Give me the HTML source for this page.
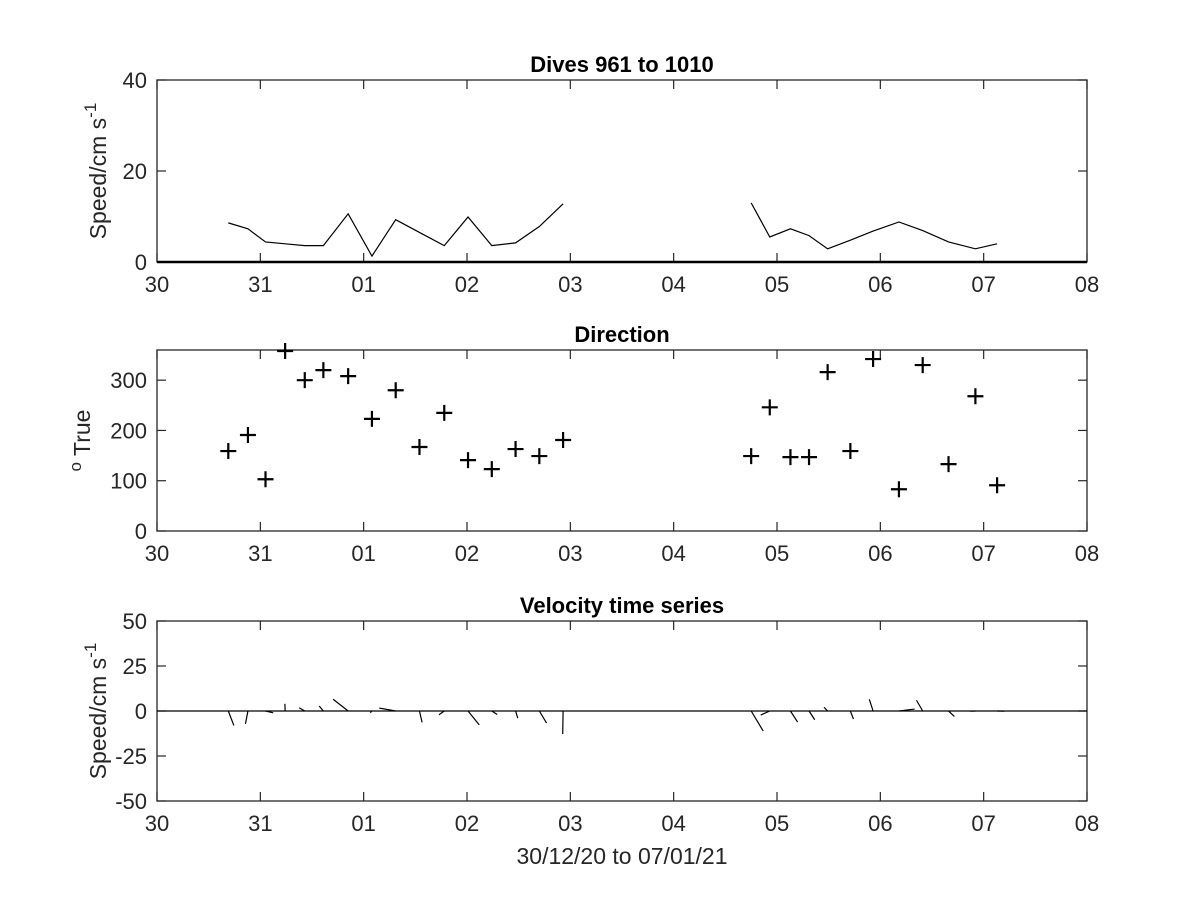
<!DOCTYPE html>
<html><head><meta charset="utf-8">
<style>
html,body{margin:0;padding:0;background:#fff;}
svg{display:block;font-family:"Liberation Sans",Arial,sans-serif;}
</style></head>
<body>
<svg id="fig" width="1200" height="900" viewBox="0 0 1200 900" xmlns="http://www.w3.org/2000/svg">
<rect width="1200" height="900" fill="#fff"/>
</svg>
<script>
// Data (time in days since 30 Dec 00:00)
const dayLabels = ["30","31","01","02","03","04","05","06","07","08"];
const times1 = [0.69,0.88,1.05,1.24,1.43,1.61,1.85,2.08,2.31,2.54,2.78,3.01,3.24,3.47,3.70,3.93];
const speed1 = [8.6,7.3,4.4,4.0,3.6,3.6,10.6,1.3,9.3,6.5,3.6,9.9,3.6,4.2,7.8,12.8];
const dir1   = [159,191,103,358,300,320,308,223,280,167,235,141,123,163,149,181];
const times2 = [5.75,5.93,6.13,6.31,6.49,6.71,6.93,7.18,7.41,7.66,7.92,8.13];
const speed2 = [13.0,5.5,7.3,5.8,2.9,4.8,6.8,8.8,6.9,4.4,2.9,4.0];
const dir2   = [149,246,147,147,316,159,342,83,330,133,268,91];
const speedTicks = [0,20,40];
const dirTicks = [0,100,200,300];
const velTicks = [-50,-25,0,25,50];

const svg = document.getElementById('fig');
const NS = 'http://www.w3.org/2000/svg';
function mk(tag, attrs, parent){
  const e = document.createElementNS(NS, tag);
  for (const k in attrs) e.setAttribute(k, attrs[k]);
  (parent||svg).appendChild(e);
  return e;
}
const X0 = 157, X1 = 1087;
const xs = t => X0 + (X1 - X0) * t / 9;
const TF = 22;

function axes(name, top, bot, ymin, ymax, yticks, title, ylabelFn){
  const g = mk('g', {});
  
  
  const ys = v => bot - (bot - top) * (v - ymin) / (ymax - ymin);
  const box = mk('rect', {x:X0, y:top, width:X1-X0, height:bot-top, fill:'none', stroke:'#262626', 'stroke-width':1.3}, g);
  
  
  dayLabels.forEach((lab, i) => {
    const x = xs(i);
    mk('line', {x1:x, x2:x, y1:bot, y2:bot-9, stroke:'#262626', 'stroke-width':1.2}, g);
    mk('line', {x1:x, x2:x, y1:top, y2:top+9, stroke:'#262626', 'stroke-width':1.2}, g);
    const t = mk('text', {x:x, y:bot+30, 'text-anchor':'middle', 'font-size':TF, fill:'#262626'}, g);
    
    
    t.textContent = lab;
  });
  yticks.forEach(v => {
    const y = ys(v);
    mk('line', {x1:X0, x2:X0+9, y1:y, y2:y, stroke:'#262626', 'stroke-width':1.2}, g);
    mk('line', {x1:X1, x2:X1-9, y1:y, y2:y, stroke:'#262626', 'stroke-width':1.2}, g);
    const t = mk('text', {x:X0-10, y:y+8, 'text-anchor':'end', 'font-size':TF, fill:'#262626'}, g);
    
    
    t.textContent = v;
  });
  const tt = mk('text', {x:(X0+X1)/2, y:top-8, 'text-anchor':'middle', 'font-size':22, 'font-weight':'bold', fill:'#000'}, g);
  
  
  tt.textContent = title;
  ylabelFn(g, (top+bot)/2);
  return ys;
}

function speedLabel(g, cy){
  const t = mk('text', {transform:`translate(106,${cy}) rotate(-90)`, 'text-anchor':'middle', 'font-size':23, fill:'#262626'}, g);
  
  
  t.innerHTML = 'Speed/cm s<tspan dy="-10" font-size="17">-1</tspan>';
}

// Panel 1
const ys1 = axes('speed-panel', 80, 262, 0, 40, speedTicks, 'Dives 961 to 1010', speedLabel);
mk('line', {x1:X0, x2:X1, y1:ys1(0), y2:ys1(0), stroke:'#000', 'stroke-width':2.5});
[[times1,speed1],[times2,speed2]].forEach(([T,S], k) => {
  const p = mk('polyline', {points:T.map((t,i)=>xs(t)+','+ys1(S[i])).join(' '), fill:'none', stroke:'#000', 'stroke-width':1.2});
  
  
});

// Panel 2
const ys2 = axes('direction-panel', 350, 531, 0, 360, dirTicks, 'Direction', (g, cy) => {
  const t = mk('text', {transform:`translate(90,${cy}) rotate(-90)`, 'text-anchor':'middle', 'font-size':23, fill:'#262626'}, g);
  
  
  t.innerHTML = '<tspan dy="-9" font-size="17">o</tspan><tspan dy="9"> True</tspan>';
});
[[times1,dir1],[times2,dir2]].forEach(([T,D]) => {
  T.forEach((t,i) => {
    const x = xs(t), y = ys2(D[i]);
    const m = mk('path', {d:`M${x-8},${y}H${x+8}M${x},${y-8}V${y+8}`, stroke:'#000', 'stroke-width':2.2});
    
    
  });
});

// Panel 3
const ys3 = axes('velocity-panel', 621, 801, -50, 50, velTicks, 'Velocity time series', speedLabel);
mk('line', {x1:X0, x2:X1, y1:ys3(0), y2:ys3(0), stroke:'#000', 'stroke-width':1.3});
const pxPerUnit = (801-621)/100;
[[times1,speed1,dir1],[times2,speed2,dir2]].forEach(([T,S,D]) => {
  T.forEach((t,i) => {
    const r = D[i]*Math.PI/180;
    const u = S[i]*Math.sin(r), v = S[i]*Math.cos(r);
    const x = xs(t), y = ys3(0);
    const s = mk('line', {x1:x, y1:y, x2:x+u*pxPerUnit, y2:ys3(v), stroke:'#000', 'stroke-width':1.2});
    
    
  });
});
const xl = mk('text', {x:(X0+X1)/2, y:864, 'text-anchor':'middle', 'font-size':23, fill:'#262626'});


xl.textContent = '30/12/20 to 07/01/21';
</script>
</body></html>
